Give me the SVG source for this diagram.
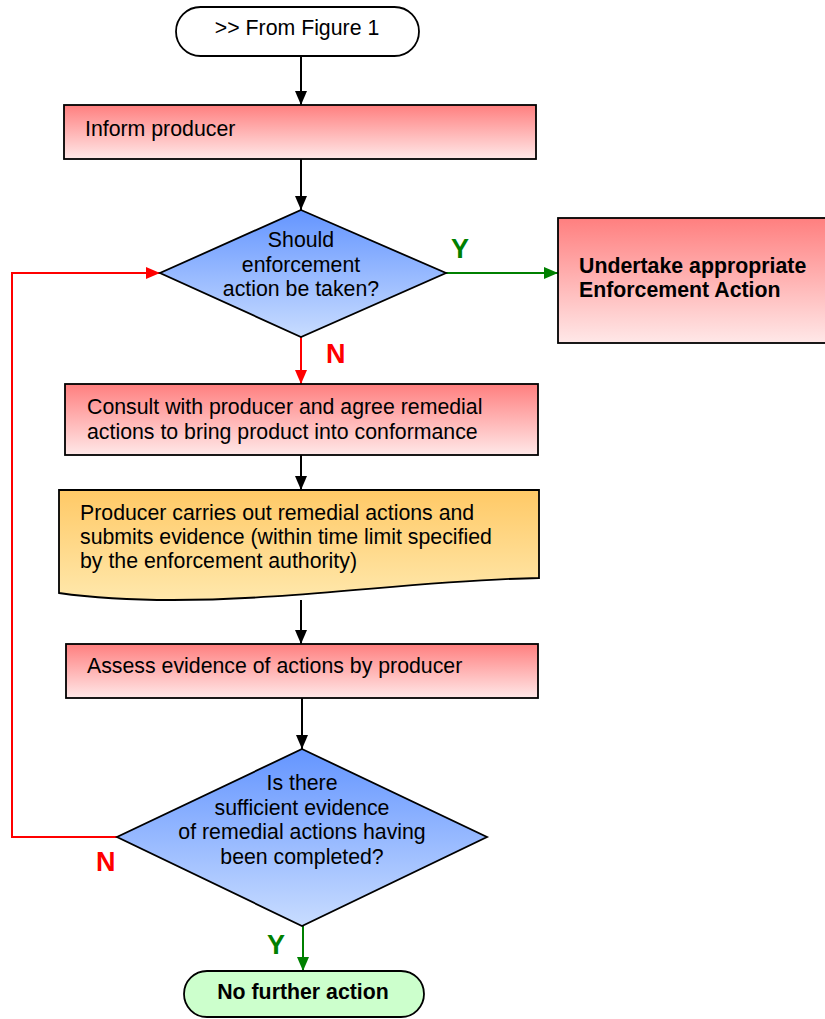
<svg xmlns="http://www.w3.org/2000/svg" width="825" height="1019" viewBox="0 0 825 1019">
<style>
  .t{font-family:"Liberation Sans",Arial,sans-serif;font-size:21.3px;fill:#000}
  .b{font-weight:bold}
  .c{text-anchor:middle}
  .box{stroke:#000;stroke-width:1.8}
  .lbl{font-family:"Liberation Sans",Arial,sans-serif;font-size:27px;font-weight:bold}
  .ln{fill:none;stroke-width:2}
</style>
<defs>
  <linearGradient id="gRed" x1="0" y1="0" x2="0" y2="1">
    <stop offset="0" stop-color="#ff7f7f"/>
    <stop offset="1" stop-color="#ffe8e8"/>
  </linearGradient>
  <linearGradient id="gBlue" x1="0" y1="0" x2="0" y2="1">
    <stop offset="0" stop-color="#6495ff"/>
    <stop offset="1" stop-color="#c8dcff"/>
  </linearGradient>
  <linearGradient id="gOr" x1="0" y1="0" x2="0" y2="1">
    <stop offset="0" stop-color="#ffc966"/>
    <stop offset="1" stop-color="#ffe8ac"/>
  </linearGradient>
  <marker id="aK" viewBox="0 0 14 12" refX="14" refY="6" markerWidth="14" markerHeight="12" markerUnits="userSpaceOnUse" orient="auto"><path d="M0,0 L14,6 L0,12 z" fill="#000"/></marker>
  <marker id="aR" viewBox="0 0 14 12" refX="14" refY="6" markerWidth="14" markerHeight="12" markerUnits="userSpaceOnUse" orient="auto"><path d="M0,0 L14,6 L0,12 z" fill="#ff0000"/></marker>
  <marker id="aG" viewBox="0 0 14 12" refX="14" refY="6" markerWidth="14" markerHeight="12" markerUnits="userSpaceOnUse" orient="auto"><path d="M0,0 L14,6 L0,12 z" fill="#008000"/></marker>
</defs>

<g id="connectors">
  <path class="ln" stroke="#000" d="M301,56 V105" marker-end="url(#aK)"/>
  <path class="ln" stroke="#000" d="M301,159 V210" marker-end="url(#aK)"/>
  <path class="ln" stroke="#008000" d="M446,273 H558" marker-end="url(#aG)"/>
  <path class="ln" stroke="#ff0000" d="M301,337 V384" marker-end="url(#aR)"/>
  <path class="ln" stroke="#000" d="M301,455 V490" marker-end="url(#aK)"/>
  <path class="ln" stroke="#000" d="M301,600 V644" marker-end="url(#aK)"/>
  <path class="ln" stroke="#000" d="M302,698 V749" marker-end="url(#aK)"/>
  <path class="ln" stroke="#008000" d="M303,926 V971" marker-end="url(#aG)"/>
  <path class="ln" stroke="#ff0000" d="M117,837 H12 V273 H160" marker-end="url(#aR)"/>
  <text class="lbl" x="451" y="258" fill="#008000">Y</text>
  <text class="lbl" x="326" y="363" fill="#ff0000">N</text>
  <text class="lbl" x="96" y="871" fill="#ff0000">N</text>
  <text class="lbl" x="267" y="954" fill="#008000">Y</text>
</g>

<g id="start">
  <rect class="box" x="176" y="7" width="243" height="49" rx="24.5" fill="#fff"/>
  <text class="t c" x="297" y="35">&gt;&gt; From Figure 1</text>
</g>

<g id="inform">
  <rect class="box" x="64" y="105" width="472" height="54" fill="url(#gRed)"/>
  <text class="t" x="85" y="136">Inform producer</text>
</g>

<g id="decision1">
  <polygon class="box" points="301,210 446,273 301,337 160,273" fill="url(#gBlue)"/>
  <text class="t c" x="301" y="247">Should</text>
  <text class="t c" x="301" y="272">enforcement</text>
  <text class="t c" x="301" y="296">action be taken?</text>
</g>

<g id="enforce">
  <rect class="box" x="558" y="218" width="280" height="125" fill="url(#gRed)"/>
  <text class="t b" x="579" y="273">Undertake appropriate</text>
  <text class="t b" x="579" y="297">Enforcement Action</text>
</g>

<g id="consult">
  <rect class="box" x="65" y="384" width="473" height="71" fill="url(#gRed)"/>
  <text class="t" x="87" y="414">Consult with producer and agree remedial</text>
  <text class="t" x="87" y="439">actions to bring product into conformance</text>
</g>

<g id="remedial">
  <path class="box" d="M59,490 H539 V578 C420,580 300,600 173,600 C120,600 80,596 59,593 Z" fill="url(#gOr)"/>
  <text class="t" x="80" y="520">Producer carries out remedial actions and</text>
  <text class="t" x="80" y="544">submits evidence (within time limit specified</text>
  <text class="t" x="80" y="568">by the enforcement authority)</text>
</g>

<g id="assess">
  <rect class="box" x="66" y="644" width="472" height="54" fill="url(#gRed)"/>
  <text class="t" x="87" y="673">Assess evidence of actions by producer</text>
</g>

<g id="decision2">
  <polygon class="box" points="302,749 487,837 302,926 117,837" fill="url(#gBlue)"/>
  <text class="t c" x="302" y="790">Is there</text>
  <text class="t c" x="302" y="815">sufficient evidence</text>
  <text class="t c" x="302" y="839">of remedial actions having</text>
  <text class="t c" x="302" y="864">been completed?</text>
</g>

<g id="end">
  <rect class="box" x="184" y="971" width="240" height="46" rx="23" fill="#ccffcc"/>
  <text class="t b c" x="303" y="999">No further action</text>
</g>
</svg>
